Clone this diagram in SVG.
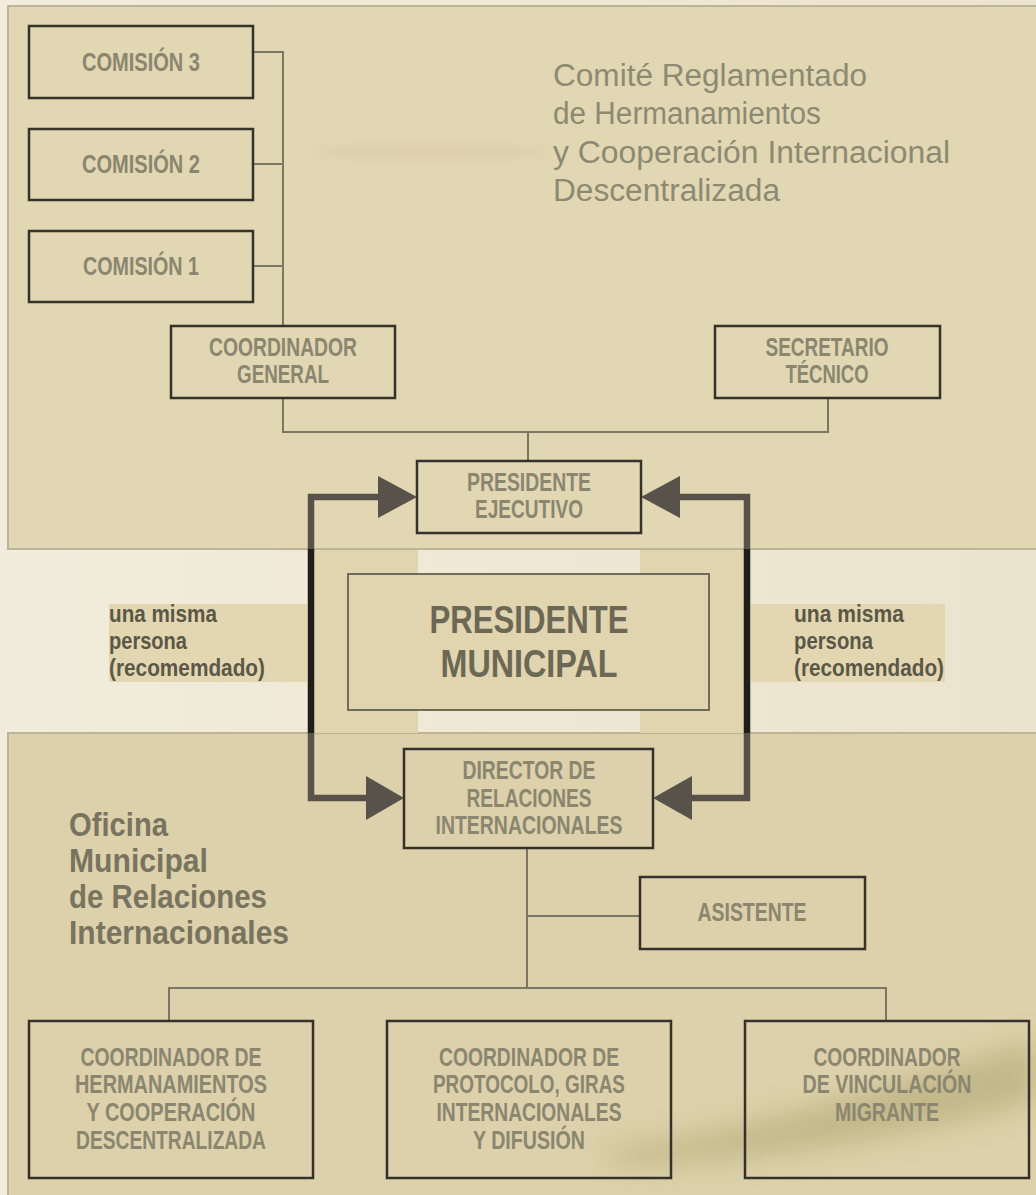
<svg xmlns="http://www.w3.org/2000/svg" width="1036" height="1195" viewBox="0 0 1036 1195">
<defs>
<style>
.bx{fill:none;stroke:#34322a;stroke-width:2.5}
.bt{font-family:"Liberation Sans",Arial,sans-serif;font-weight:bold;font-size:25.5px;fill:#8a8670;text-anchor:middle}
.ln{fill:none;stroke:#7a7765;stroke-width:2}
.thk{fill:none;stroke:#57534a;stroke-width:6.5;stroke-linejoin:miter}
.blk{fill:none;stroke:#1f1e19;stroke-width:6.5}
.ah{fill:#57534a}
.lab{font-family:"Liberation Sans",Arial,sans-serif;font-weight:bold;font-size:24px;fill:#5b5747}
.ttl{font-family:"Liberation Sans",Arial,sans-serif;font-size:31px;fill:#8d8a73}
.ttl2{font-family:"Liberation Sans",Arial,sans-serif;font-weight:bold;font-size:33px;fill:#78745f}
.pm{font-family:"Liberation Sans",Arial,sans-serif;font-weight:bold;font-size:39px;fill:#6b6855;text-anchor:middle}
</style>
<linearGradient id="bg" x1="0" y1="0" x2="1" y2="0">
<stop offset="0" stop-color="#f2ecdc"/>
<stop offset="0.5" stop-color="#efe8d4"/>
<stop offset="1" stop-color="#ebe3cd"/>
</linearGradient>
<filter id="blur" x="-50%" y="-50%" width="200%" height="200%"><feGaussianBlur stdDeviation="14"/></filter>
<filter id="blur2" x="-50%" y="-50%" width="200%" height="200%"><feGaussianBlur stdDeviation="5"/></filter>
</defs>
<rect x="0" y="0" width="1036" height="1195" fill="url(#bg)"/>
<g id="panel-top">
<rect x="8" y="6" width="1040" height="543" fill="#e1d7b2" stroke="#bcb496" stroke-width="2"/>
<ellipse cx="430" cy="152" rx="120" ry="6" fill="#d6b9a0" opacity="0.35" filter="url(#blur2)"/>
</g>
<g id="panel-bottom">
<rect x="8" y="733" width="1040" height="470" fill="#dcd1aa" stroke="#bcb496" stroke-width="2"/>
<path d="M600,1150 C700,1140 820,1110 1036,1040 L1036,1100 C900,1140 760,1160 620,1165 Z" fill="#a89e68" opacity="0.5" filter="url(#blur)"/>
</g>
<g id="middle-band">
<rect x="313" y="550" width="105" height="183" fill="#e0d5ae"/>
<rect x="640" y="550" width="107" height="183" fill="#e0d5ae"/>
<rect x="109" y="604" width="198" height="78" fill="#e2d7b1"/>
<rect x="751" y="604" width="194" height="78" fill="#e2d7b1"/>
</g>
<g id="title-comite">
<text class="ttl" x="553" y="86" textLength="314" lengthAdjust="spacingAndGlyphs">Comité Reglamentado</text>
<text class="ttl" x="553" y="124" textLength="268" lengthAdjust="spacingAndGlyphs">de Hermanamientos</text>
<text class="ttl" x="553" y="163" textLength="397" lengthAdjust="spacingAndGlyphs">y Cooperación Internacional</text>
<text class="ttl" x="553" y="201" textLength="227" lengthAdjust="spacingAndGlyphs">Descentralizada</text>
</g>
<g id="title-oficina">
<text class="ttl2" x="69" y="836" textLength="99" lengthAdjust="spacingAndGlyphs">Oficina</text>
<text class="ttl2" x="69" y="872" textLength="139" lengthAdjust="spacingAndGlyphs">Municipal</text>
<text class="ttl2" x="69" y="908" textLength="198" lengthAdjust="spacingAndGlyphs">de Relaciones</text>
<text class="ttl2" x="69" y="944" textLength="220" lengthAdjust="spacingAndGlyphs">Internacionales</text>
</g>
<g id="connectors">
<path class="ln" d="M253,52 H283 V326"/>
<path class="ln" d="M253,164 H283"/>
<path class="ln" d="M253,266 H283"/>
<path class="ln" d="M283,398 V432 H828 V398"/>
<path class="ln" d="M528,432 V461"/>
<path class="ln" d="M527,848 V988"/>
<path class="ln" d="M169,1021 V988 H886 V1021"/>
<path class="ln" d="M527,916 H640"/>
<path class="thk" d="M311,549 V497 H382"/>
<path class="thk" d="M747,549 V497 H676"/>
<path class="blk" d="M311,549 V733"/>
<path class="blk" d="M747,549 V733"/>
<path class="thk" d="M311,733 V798 H370"/>
<path class="thk" d="M747,733 V798 H690"/>
<polygon class="ah" points="378,476 417,497 378,518"/>
<polygon class="ah" points="680,476 641,497 680,518"/>
<polygon class="ah" points="366,776 404,798 366,820"/>
<polygon class="ah" points="692,776 653,798 692,820"/>
</g>
<g id="comision-3">
<rect class="bx" x="29" y="26" width="224" height="72"/>
<text class="bt" x="141" y="71" textLength="118" lengthAdjust="spacingAndGlyphs">COMISIÓN 3</text>
</g>
<g id="comision-2">
<rect class="bx" x="29" y="129" width="224" height="71"/>
<text class="bt" x="141" y="173" textLength="118" lengthAdjust="spacingAndGlyphs">COMISIÓN 2</text>
</g>
<g id="comision-1">
<rect class="bx" x="29" y="231" width="224" height="71"/>
<text class="bt" x="141" y="275" textLength="116" lengthAdjust="spacingAndGlyphs">COMISIÓN 1</text>
</g>
<g id="coordinador-general">
<rect class="bx" x="171" y="326" width="224" height="72"/>
<text class="bt" x="283" y="356" textLength="148" lengthAdjust="spacingAndGlyphs">COORDINADOR</text>
<text class="bt" x="283" y="383" textLength="92" lengthAdjust="spacingAndGlyphs">GENERAL</text>
</g>
<g id="secretario-tecnico">
<rect class="bx" x="715" y="326" width="225" height="72"/>
<text class="bt" x="827" y="356" textLength="123" lengthAdjust="spacingAndGlyphs">SECRETARIO</text>
<text class="bt" x="827" y="383" textLength="83" lengthAdjust="spacingAndGlyphs">TÉCNICO</text>
</g>
<g id="presidente-ejecutivo">
<rect class="bx" x="417" y="461" width="224" height="72"/>
<text class="bt" x="529" y="491" textLength="124" lengthAdjust="spacingAndGlyphs">PRESIDENTE</text>
<text class="bt" x="529" y="518" textLength="108" lengthAdjust="spacingAndGlyphs">EJECUTIVO</text>
</g>
<g id="presidente-municipal">
<rect x="348" y="574" width="361" height="136" fill="#e0d5ae" stroke="#6f6c5c" stroke-width="2"/>
<text class="pm" x="529" y="633" textLength="199" lengthAdjust="spacingAndGlyphs">PRESIDENTE</text>
<text class="pm" x="529" y="677" textLength="177" lengthAdjust="spacingAndGlyphs">MUNICIPAL</text>
</g>
<g id="label-left">
<text class="lab" x="109" y="622" textLength="108" lengthAdjust="spacingAndGlyphs">una misma</text>
<text class="lab" x="109" y="649" textLength="78" lengthAdjust="spacingAndGlyphs">persona</text>
<text class="lab" x="109" y="676" textLength="156" lengthAdjust="spacingAndGlyphs">(recomemdado)</text>
</g>
<g id="label-right">
<text class="lab" x="794" y="622" textLength="110" lengthAdjust="spacingAndGlyphs">una misma</text>
<text class="lab" x="794" y="649" textLength="79" lengthAdjust="spacingAndGlyphs">persona</text>
<text class="lab" x="794" y="676" textLength="150" lengthAdjust="spacingAndGlyphs">(recomendado)</text>
</g>
<g id="director">
<rect class="bx" x="404" y="749" width="249" height="99"/>
<text class="bt" x="529" y="779" textLength="133" lengthAdjust="spacingAndGlyphs">DIRECTOR DE</text>
<text class="bt" x="529" y="807" textLength="125" lengthAdjust="spacingAndGlyphs">RELACIONES</text>
<text class="bt" x="529" y="834" textLength="187" lengthAdjust="spacingAndGlyphs">INTERNACIONALES</text>
</g>
<g id="asistente">
<rect class="bx" x="640" y="877" width="225" height="72"/>
<text class="bt" x="752" y="921" textLength="109" lengthAdjust="spacingAndGlyphs">ASISTENTE</text>
</g>
<g id="coord-hermanamientos">
<rect class="bx" x="29" y="1021" width="284" height="157"/>
<text class="bt" x="171" y="1066" textLength="181" lengthAdjust="spacingAndGlyphs">COORDINADOR DE</text>
<text class="bt" x="171" y="1093" textLength="192" lengthAdjust="spacingAndGlyphs">HERMANAMIENTOS</text>
<text class="bt" x="171" y="1121" textLength="169" lengthAdjust="spacingAndGlyphs">Y COOPERACIÓN</text>
<text class="bt" x="171" y="1149" textLength="190" lengthAdjust="spacingAndGlyphs">DESCENTRALIZADA</text>
</g>
<g id="coord-protocolo">
<rect class="bx" x="387" y="1021" width="284" height="157"/>
<text class="bt" x="529" y="1066" textLength="180" lengthAdjust="spacingAndGlyphs">COORDINADOR DE</text>
<text class="bt" x="529" y="1093" textLength="192" lengthAdjust="spacingAndGlyphs">PROTOCOLO, GIRAS</text>
<text class="bt" x="529" y="1121" textLength="185" lengthAdjust="spacingAndGlyphs">INTERNACIONALES</text>
<text class="bt" x="529" y="1149" textLength="112" lengthAdjust="spacingAndGlyphs">Y DIFUSIÓN</text>
</g>
<g id="coord-vinculacion">
<rect class="bx" x="745" y="1021" width="284" height="157"/>
<text class="bt" x="887" y="1066" textLength="147" lengthAdjust="spacingAndGlyphs">COORDINADOR</text>
<text class="bt" x="887" y="1093" textLength="169" lengthAdjust="spacingAndGlyphs">DE VINCULACIÓN</text>
<text class="bt" x="887" y="1121" textLength="104" lengthAdjust="spacingAndGlyphs">MIGRANTE</text>
</g>
</svg>
